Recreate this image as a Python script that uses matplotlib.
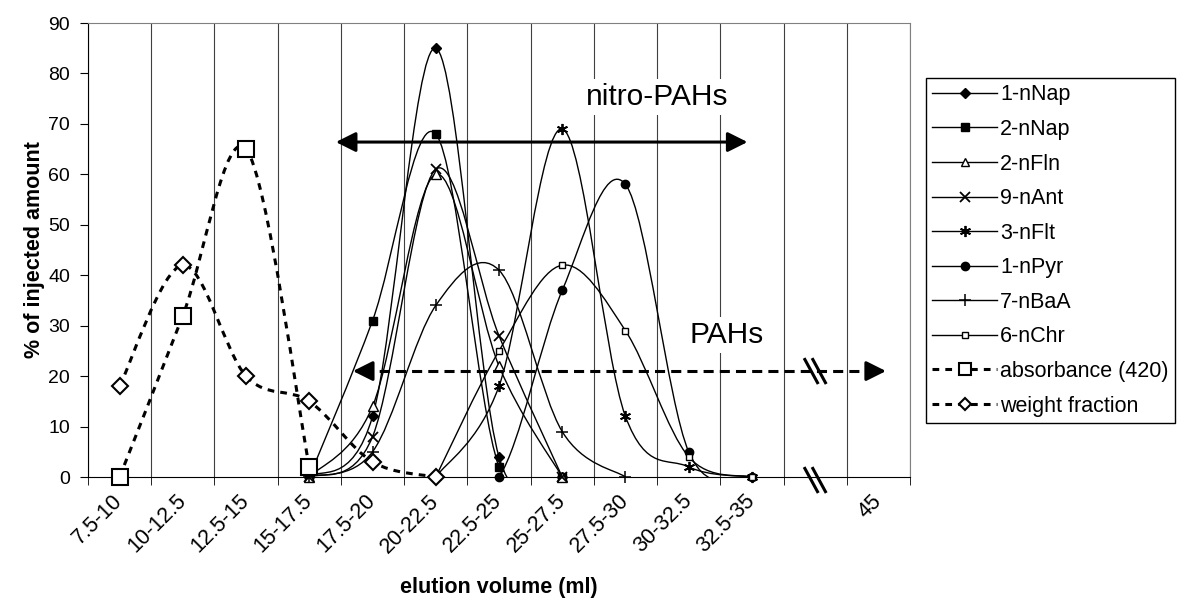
import numpy as np
import matplotlib
matplotlib.use("Agg")
import matplotlib.pyplot as plt
from matplotlib.path import Path
from matplotlib.patches import PathPatch
from matplotlib.lines import Line2D

plt.rcParams['font.family'] = ['Liberation Sans', 'DejaVu Sans']

categories = ["7.5-10", "10-12.5", "12.5-15", "15-17.5", "17.5-20", "20-22.5",
              "22.5-25", "25-27.5", "27.5-30", "30-32.5", "32.5-35", "", "45"]

# % of injected amount; each series starts at the given category index
nap1_start, nap1 = 3, [0, 12, 85, 4, 0]
nap2_start, nap2 = 3, [0, 31, 68, 2, 0]
fln2_start, fln2 = 3, [0, 14, 60, 22, 0]
ant9_start, ant9 = 3, [0, 8, 61, 28, 0]
flt3_start, flt3 = 5, [0, 18, 69, 12, 2, 0]
pyr1_start, pyr1 = 5, [0, 0, 37, 58, 5, 0]
baa7_start, baa7 = 3, [0, 5, 34, 41, 9, 0]
chr6_start, chr6 = 5, [0, 25, 42, 29, 4, 0]
absorb_start, absorb = 0, [0, 32, 65, 2]
weight_start, weight = 0, [18, 42, 20, 15, 3, 0]

DASH = (0, (2.2, 2.0))


def smooth_path(x, y):
    # Excel-like smoothed line: cubic bezier, catmull-rom tangents
    pts = np.column_stack([x, y]).astype(float)
    n = len(pts)
    verts = [pts[0]]
    codes = [Path.MOVETO]
    for i in range(n - 1):
        p0 = pts[max(i - 1, 0)]
        p1 = pts[i]
        p2 = pts[i + 1]
        p3 = pts[min(i + 2, n - 1)]
        verts += [p1 + (p2 - p0) / 6, p2 - (p3 - p1) / 6, p2]
        codes += [Path.CURVE4] * 3
    return Path(verts, codes)


fig = plt.figure(figsize=(11.78, 6.07), dpi=100)
ax = fig.add_axes([88 / 1178, 1 - 477 / 607, 822 / 1178, 454 / 607])

# name, start, values, marker style, legend marker size, line style, width
series = [
    ("1-nNap", nap1_start, nap1, dict(marker='D', ms=5, mfc='k'), 5, '-', 1.0),
    ("2-nNap", nap2_start, nap2, dict(marker='s', ms=6, mfc='k'), 6, '-', 1.0),
    ("2-nFln", fln2_start, fln2, dict(marker='^', ms=6.5, mfc='white', mew=1.0), 6, '-', 1.0),
    ("9-nAnt", ant9_start, ant9, dict(marker='x', ms=7, mew=1.3), 7, '-', 1.0),
    ("3-nFlt", flt3_start, flt3, dict(marker=(6, 2, 0), ms=8, mew=1.3), 8, '-', 1.0),
    ("1-nPyr", pyr1_start, pyr1, dict(marker='o', ms=6, mfc='k'), 6, '-', 1.0),
    ("7-nBaA", baa7_start, baa7, dict(marker='+', ms=9, mew=1.1), 9, '-', 1.0),
    ("6-nChr", chr6_start, chr6, dict(marker='s', ms=5, mfc='white', mew=1.0), 5, '-', 1.0),
    ("absorbance (420)", absorb_start, absorb, dict(marker='s', ms=12, mfc='white', mew=1.5), 9, DASH, 2.2),
    ("weight fraction", weight_start, weight, dict(marker='D', ms=8, mfc='white', mew=1.5), 6.5, DASH, 2.2),
]

handles = []
for name, start, vals, mk, leg_ms, ls, lw in series:
    x = np.arange(start, start + len(vals))
    ax.add_patch(PathPatch(smooth_path(x, vals), facecolor='none', edgecolor='black',
                           lw=lw, linestyle=ls, zorder=2))
    ax.plot(x, vals, ls='none', color='k', mec='k', clip_on=False, zorder=3, **mk)
    hk = dict(mk, ms=leg_ms)
    handles.append(Line2D([], [], color='k', mec='k', lw=lw, linestyle=ls, **hk))

ax.set_xlim(-0.5, len(categories) - 0.5)
ax.set_ylim(0, 90)
ax.set_yticks(np.arange(0, 91, 10))
ax.set_xticks(np.arange(len(categories)))
ax.set_xticklabels(categories, rotation=45, ha='right', va='center', rotation_mode='anchor')
ax.set_xticks(np.arange(len(categories) + 1) - 0.5, minor=True)
ax.tick_params(axis='x', which='major', length=0, pad=15, labelsize=15.5)
ax.tick_params(axis='x', which='minor', length=6, direction='out', color='k')
ax.tick_params(axis='y', length=6, direction='out', pad=7, labelsize=14)
ax.grid(which='minor', axis='x', color='#404040', lw=0.8)
ax.set_axisbelow(True)
for side in ['top', 'right']:
    ax.spines[side].set_color('#808080')
for side in ['left', 'bottom']:
    ax.spines[side].set_color('black')

# annotation arrows
ax.annotate('', xy=(3.42, 66.4), xytext=(9.93, 66.4),
            arrowprops=dict(arrowstyle='<|-|>', color='k', lw=2.2, mutation_scale=30,
                            shrinkA=0, shrinkB=0), zorder=4)
ax.plot([3.85, 11.9], [21, 21], color='k', lw=2.2, ls=(0, (3.3, 2.0)), zorder=4)
ax.annotate('', xy=(3.69, 21), xytext=(3.95, 21),
            arrowprops=dict(arrowstyle='-|>', color='k', lw=2.2, mutation_scale=30,
                            shrinkA=0, shrinkB=0), zorder=4)
ax.annotate('', xy=(12.12, 21), xytext=(11.86, 21),
            arrowprops=dict(arrowstyle='-|>', color='k', lw=2.2, mutation_scale=30,
                            shrinkA=0, shrinkB=0), zorder=4)

# break marks on the dashed arrow and on the axis
for yc in [21, -0.6]:
    for off in [-0.063, 0.063]:
        ax.plot([11 + off - 0.1, 11 + off + 0.1], [yc + 2.3, yc - 2.3],
                color='k', lw=2.2, clip_on=False, zorder=5)

ax.text(8.5, 75.3, 'nitro-PAHs', fontsize=21.5, ha='center', va='center', zorder=1.5,
        bbox=dict(facecolor='white', edgecolor='none', pad=3))
ax.text(9.6, 28.2, 'PAHs', fontsize=21.5, ha='center', va='center', zorder=1.5,
        bbox=dict(facecolor='white', edgecolor='none', pad=3))

fig.text(499 / 1178, 1 - 588 / 607, 'elution volume (ml)', fontsize=15.5, fontweight='bold',
         ha='center', va='center')
fig.text(35 / 1178, 1 - 250 / 607, '% of injected amount', fontsize=15.5, fontweight='bold',
         rotation=90, ha='center', va='center')

leg = ax.legend(handles, [s[0] for s in series], loc='upper left',
                bbox_to_anchor=(926 / 1178, 1 - 78 / 607), bbox_transform=fig.transFigure,
                fontsize=15.5, frameon=True, fancybox=False, edgecolor='black', framealpha=1,
                handlelength=3.0, handletextpad=0.15, borderpad=0.3, labelspacing=0.63,
                borderaxespad=0)
leg.get_frame().set_linewidth(1.0)

fig.savefig("out.png", dpi=100)
